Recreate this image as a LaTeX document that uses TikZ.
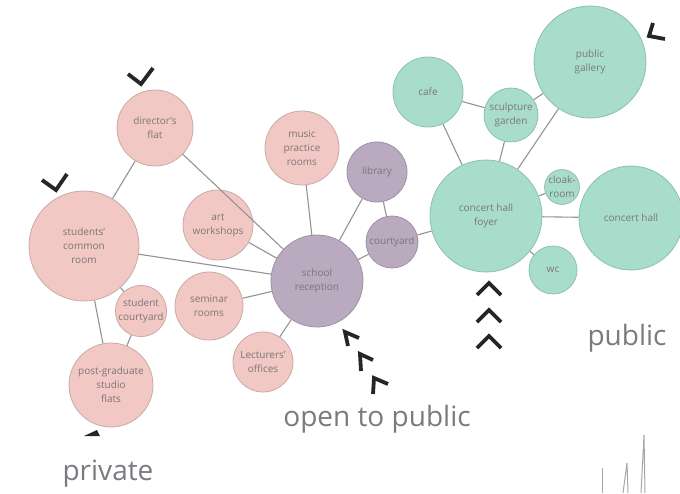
\documentclass[tikz,border=0pt]{standalone}
\usepackage{fontspec}
\setmainfont{Open Sans}
\usepackage{tikz}
\usetikzlibrary{shapes,arrows}
\definecolor{pinkfill}{HTML}{F2C8C4}
\definecolor{pinkline}{HTML}{C9A9A6}
\definecolor{lilacfill}{HTML}{B9AAC0}
\definecolor{lilacline}{HTML}{9D8FA5}
\definecolor{mintfill}{HTML}{A8DDCB}
\definecolor{mintline}{HTML}{8CC0AD}
\definecolor{roomtext}{HTML}{7D7578}
\definecolor{zonetext}{HTML}{7A7A80}
\tikzstyle{link} = [draw, color=gray!85, line width=1.1pt]
\tikzstyle{room} = [circle, inner sep=0pt, align=center, text=roomtext, line width=0.8pt, font=\fontsize{10}{14}\selectfont]
\tikzstyle{private} = [room, fill=pinkfill, draw=pinkline]
\tikzstyle{shared} = [room, fill=lilacfill, draw=lilacline]
\tikzstyle{open} = [room, fill=mintfill, draw=mintline]
\tikzstyle{chevron} = [draw=black!85, line width=3.8pt, line join=miter]
\tikzstyle{zone} = [text=zonetext, anchor=base, font=\fontsize{28}{32}\selectfont]
\begin{document}
\begin{tikzpicture}[x=1pt, y=-1pt]
				\useasboundingbox (0,0) rectangle (680,493);
				% Place nodes
				\node [private, minimum size=76pt] (director) at (155,128) {director's\\flat};
				\node [private, minimum size=110pt] (common) at (84,246) {students'\\common\\room};
				\node [private, minimum size=70pt] (art) at (218,225) {art\\workshops};
				\node [private, minimum size=74pt] (music) at (302,148) {music\\practice\\rooms};
				\node [private, minimum size=68pt] (seminar) at (209,306) {seminar\\rooms};
				\node [private, minimum size=50pt] (studyard) at (141,311) {student\\courtyard};
				\node [private, minimum size=84pt] (postgrad) at (111,385) {post-graduate\\studio\\flats};
				\node [private, minimum size=60pt] (lecturers) at (263,362) {Lecturers'\\offices};
				\node [shared, minimum size=92pt] (reception) at (317,281) {school\\reception};
				\node [shared, minimum size=60pt] (library) at (377,172) {library};
				\node [shared, minimum size=52pt] (courtyard) at (392,242) {courtyard};
				\node [open, minimum size=112pt] (foyer) at (486,216) {concert hall\\foyer};
				\node [open, minimum size=70pt] (cafe) at (428,92) {cafe};
				\node [open, minimum size=54pt] (sculpture) at (511,115) {sculpture\\garden};
				\node [open, minimum size=112pt] (gallery) at (590,62) {public\\gallery};
				\node [open, minimum size=32pt] (cloak) at (562,187) {cloak-\\room};
				\node [open, minimum size=104pt] (hall) at (631,218) {concert hall};
				\node [open, minimum size=48pt] (wc) at (553,270) {wc};
				% Draw edges
				\path [link] (director) -- (common);
				\path [link] (director) -- (reception);
				\path [link] (common) -- (reception);
				\path [link] (common) -- (studyard);
				\path [link] (common) -- (postgrad);
				\path [link] (studyard) -- (postgrad);
				\path [link] (art) -- (reception);
				\path [link] (music) -- (reception);
				\path [link] (seminar) -- (reception);
				\path [link] (lecturers) -- (reception);
				\path [link] (library) -- (reception);
				\path [link] (library) -- (courtyard);
				\path [link] (courtyard) -- (reception);
				\path [link] (courtyard) -- (foyer);
				\path [link] (foyer) -- (cafe);
				\path [link] (foyer) -- (sculpture);
				\path [link] (foyer) -- (gallery);
				\path [link] (foyer) -- (cloak);
				\path [link] (foyer) -- (hall);
				\path [link] (foyer) -- (wc);
				\path [link] (cafe) -- (sculpture);
				\path [link] (sculpture) -- (gallery);
				% Chevrons
				\draw [chevron] (128,74) -- (141,84) -- (153,68);
				\draw [chevron] (42,180) -- (56,190) -- (67,174);
				\draw [chevron] (653,23) -- (649,36) -- (665,39);
				\foreach \y in {283,310,336}
					\draw [chevron] (477,\y+12) -- (489,\y) -- (501,\y+12);
				\draw [chevron] (359,338) -- (345,332) -- (348,346);
				\draw [chevron] (373,360) -- (360,354) -- (361,371);
				\draw [chevron] (388,384) -- (374,378) -- (373,394);
				\fill [black!85] (84,436) -- (97,430) -- (100,436) -- cycle;
				% Zone labels
				\node [zone] (opentopublic) at (377,426) {open to public};
				\node [zone] (privatezone) at (108,480) {private};
				\node [zone] (publiczone) at (627,345) {public};
				% Sketch marks
				\draw [gray!70, line width=1pt] (602,468) -- (602,493);
				\draw [gray!70, line width=1pt] (623,493) -- (627,463) -- (628,493);
				\draw [gray!70, line width=1pt] (641,493) -- (644,435) -- (645,493);
\end{tikzpicture}
\end{document}
